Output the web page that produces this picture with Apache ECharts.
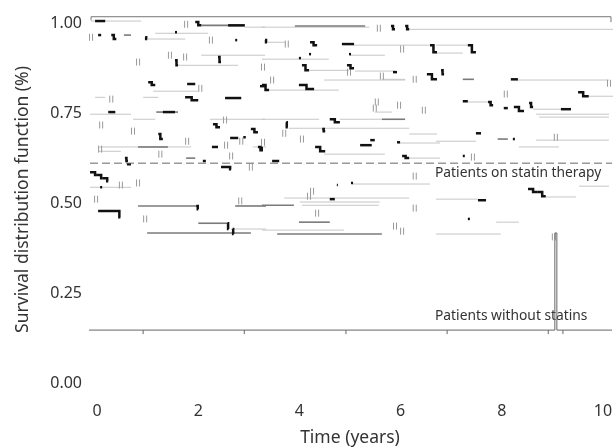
<!DOCTYPE html>
<html>
<head>
<meta charset="utf-8">
<script src="https://cdn.jsdelivr.net/npm/echarts@6/dist/echarts.min.js"></script>
<style>
  html, body { margin: 0; padding: 0; background: #fff; }
  #chart { width: 614px; height: 447px; }
</style>
</head>
<body>
<div id="chart"></div>
<script>
// tick labels
const xLabels = [0, 2, 4, 6, 8, 10]
const yLabels = [0, 0.25, 0.5, 0.75, 1]
const xTickMarks = [0.91, 2.91, 4.92, 6.92, 8.92, 9.21]

// patients without statins: stays flat, jumps near year 9
const noStatinX = [-0.16, 9.05, 9.05, 9.09, 9.09, 10.18]
const noStatinY = [0.147, 0.147, 0.417, 0.417, 0.147, 0.147]

// patients on statin therapy: dashed reference level
const statinX = [-0.14, 10.18]
const statinY = [0.611, 0.611]

// frame at the top of the curves
const frameX = [-0.12, -0.12, 10.16, 10.16]
const frameY = [1.008, 1.018, 1.018, 1.003]

// faint curve fragments: [start, end, survival]
const lightSegments = [
  [-0.12, 0.87, 1.006], [2.92, 3.32, 0.989], [3.26, 5.38, 0.989], [6.17, 10.2, 0.983],
  [1.15, 2.19, 0.972], [0.99, 1.74, 0.956], [3.36, 3.72, 0.947], [5.08, 6.56, 0.939],
  [6.70, 7.33, 0.939], [6.70, 7.23, 0.917], [2.06, 3.32, 0.911], [5.00, 5.69, 0.911],
  [3.26, 4.58, 0.900], [1.56, 2.79, 0.883], [4.19, 4.98, 0.869], [5.10, 5.89, 0.867],
  [5.63, 6.09, 0.844], [4.49, 6.09, 0.842], [8.32, 10.12, 0.842], [3.40, 4.78, 0.814],
  [1.11, 2.00, 0.811], [9.72, 10.2, 0.797], [-0.04, 0.16, 0.794], [0.91, 1.21, 0.794],
  [7.33, 7.75, 0.781], [8.62, 9.21, 0.761], [5.49, 5.83, 0.753], [-0.14, 0.67, 0.747],
  [8.68, 10.12, 0.747], [8.74, 10.12, 0.739], [0.71, 1.15, 0.733], [2.23, 3.32, 0.733],
  [3.26, 4.39, 0.733], [4.80, 5.63, 0.733], [3.79, 6.17, 0.708], [6.17, 6.72, 0.692],
  [6.70, 7.49, 0.672], [8.68, 10.12, 0.675], [5.99, 6.78, 0.667], [0.02, 1.86, 0.656],
  [3.08, 3.34, 0.656], [8.34, 9.13, 0.656], [0.02, 0.47, 0.644], [4.49, 5.69, 0.636],
  [6.17, 6.78, 0.625], [5.04, 6.58, 0.553], [9.53, 10.12, 0.547], [-0.14, 0.67, 0.544],
  [8.87, 9.47, 0.517], [3.70, 6.17, 0.514], [6.70, 7.53, 0.511], [4.05, 5.57, 0.494],
  [7.89, 8.34, 0.447], [2.65, 3.34, 0.428], [3.26, 4.88, 0.425], [6.70, 7.98, 0.414],
  [4.01, 5.59, 0.503]
]

// grey curve fragments: [start, end, survival]
const greySegments = [
  [2.06, 2.92, 0.994], [3.91, 5.30, 0.992], [0.53, 0.67, 0.967], [1.17, 1.60, 0.753],
  [0.81, 1.40, 0.656], [1.76, 1.94, 0.625], [0.81, 2.00, 0.492], [2.73, 3.34, 0.492],
  [3.26, 3.89, 0.494], [3.99, 4.60, 0.447], [2.00, 2.59, 0.444], [0.99, 3.04, 0.417],
  [3.56, 5.63, 0.414], [5.63, 6.09, 0.733], [7.23, 7.45, 0.844], [7.92, 8.12, 0.678]
]

// black event steps: [start, step at, end, survival before, survival after]
const eventSteps = [
  [-0.04, 0.06, 0.16, 1.006, 1.006], [1.94, 2.00, 2.06, 1.003, 0.994], [2.59, 2.75, 2.92, 0.994, 0.994],
  [0.02, 0.05, 0.08, 0.967, 0.967], [0.28, 0.33, 0.38, 0.967, 0.956], [0.95, 0.97, 0.99, 0.961, 0.956],
  [5.81, 5.85, 5.89, 0.992, 0.983], [6.09, 6.13, 6.17, 0.992, 0.983], [3.32, 3.34, 3.36, 0.953, 0.947],
  [4.21, 4.28, 4.35, 0.947, 0.939], [4.84, 4.96, 5.08, 0.942, 0.942], [6.58, 6.65, 6.72, 0.939, 0.919],
  [7.33, 7.41, 7.49, 0.939, 0.919], [1.54, 1.57, 1.60, 0.897, 0.883], [2.39, 2.42, 2.45, 0.906, 0.892],
  [4.05, 4.12, 4.19, 0.883, 0.869], [4.94, 5.01, 5.08, 0.883, 0.875], [5.85, 5.89, 5.93, 0.864, 0.864],
  [6.52, 6.62, 6.72, 0.858, 0.844], [6.80, 6.83, 6.86, 0.869, 0.858], [8.18, 8.25, 8.32, 0.844, 0.844],
  [1.01, 1.08, 1.15, 0.836, 0.828], [1.78, 1.86, 1.94, 0.831, 0.831], [3.22, 3.28, 3.34, 0.825, 0.825],
  [3.26, 3.33, 3.40, 0.828, 0.814], [3.99, 4.14, 4.29, 0.828, 0.817], [1.74, 1.87, 2.00, 0.794, 0.786],
  [2.53, 2.69, 2.85, 0.792, 0.792], [9.51, 9.61, 9.72, 0.808, 0.797], [7.23, 7.28, 7.33, 0.783, 0.783],
  [7.73, 7.78, 7.83, 0.781, 0.772], [8.04, 8.08, 8.12, 0.764, 0.764], [8.24, 8.34, 8.44, 0.767, 0.756],
  [8.54, 8.58, 8.62, 0.778, 0.767], [9.17, 9.27, 9.37, 0.761, 0.761], [0.22, 0.29, 0.36, 0.753, 0.753],
  [1.30, 1.42, 1.54, 0.753, 0.753], [2.29, 2.36, 2.43, 0.719, 0.711], [3.74, 3.75, 3.77, 0.725, 0.711],
  [4.60, 4.70, 4.80, 0.733, 0.725], [3.04, 3.11, 3.18, 0.706, 0.697], [1.21, 1.25, 1.30, 0.692, 0.678],
  [2.63, 2.71, 2.79, 0.681, 0.681], [2.89, 2.91, 2.94, 0.683, 0.683], [2.27, 2.33, 2.39, 0.656, 0.656],
  [3.18, 3.23, 3.28, 0.656, 0.647], [0.55, 0.58, 0.61, 0.625, 0.617], [0.59, 0.63, 0.67, 0.608, 0.608],
  [2.09, 2.12, 2.15, 0.617, 0.617], [2.45, 2.63, 2.65, 0.600, 0.594], [4.45, 4.48, 4.51, 0.706, 0.700],
  [5.40, 5.45, 5.49, 0.675, 0.675], [5.20, 5.31, 5.43, 0.661, 0.661], [5.93, 5.96, 5.99, 0.669, 0.669],
  [4.31, 4.41, 4.51, 0.656, 0.644], [6.03, 6.10, 6.17, 0.631, 0.625], [7.49, 7.54, 7.59, 0.694, 0.694],
  [8.22, 8.24, 8.26, 0.678, 0.678], [7.23, 7.25, 7.27, 0.631, 0.631], [-0.14, -0.04, -0.02, 0.586, 0.578],
  [-0.02, 0.08, 0.10, 0.578, 0.569], [0.10, 0.20, 0.22, 0.569, 0.561], [0.02, 0.44, 0.46, 0.478, 0.461],
  [4.74, 4.75, 4.76, 0.550, 0.550], [5.02, 5.04, 5.06, 0.556, 0.556], [4.60, 4.65, 4.70, 0.511, 0.511],
  [8.52, 8.62, 8.70, 0.539, 0.531], [8.70, 8.80, 8.87, 0.531, 0.519], [7.53, 7.61, 7.69, 0.508, 0.508],
  [7.33, 7.35, 7.37, 0.456, 0.456], [1.96, 1.99, 2.00, 0.492, 0.483], [2.58, 2.59, 2.60, 0.444, 0.428],
  [2.68, 2.69, 2.70, 0.428, 0.414], [3.46, 3.53, 3.60, 0.617, 0.617], [1.54, 1.56, 1.58, 0.975, 0.975],
  [2.73, 2.75, 2.77, 0.953, 0.953], [3.99, 4.01, 4.03, 0.903, 0.903], [4.19, 4.21, 4.23, 0.914, 0.914],
  [4.98, 5.00, 5.02, 0.914, 0.914], [0.06, 0.08, 0.10, 0.544, 0.544], [3.24, 3.26, 3.28, 0.653, 0.653]
]

// censored observations: [time, survival]
const censorMarks = [
  [1.76, 0.997], [5.57, 0.986], [-0.12, 0.961], [2.25, 0.953], [3.75, 0.942], [6.03, 0.928],
  [0.81, 0.892], [1.74, 0.906], [1.44, 0.911], [3.28, 0.878], [4.98, 0.864], [5.63, 0.853],
  [6.28, 0.844], [3.46, 0.842], [2.04, 0.819], [0.28, 0.789], [8.08, 0.803], [5.53, 0.781],
  [5.49, 0.764], [5.97, 0.772], [6.46, 0.758], [0.08, 0.717], [2.53, 0.731], [0.71, 0.700],
  [3.70, 0.694], [4.05, 0.678], [2.85, 0.672], [1.78, 0.672], [3.28, 0.669], [0.06, 0.650],
  [2.55, 0.661], [1.25, 0.636], [2.65, 0.631], [3.04, 0.600], [0.47, 0.550], [0.81, 0.556],
  [6.28, 0.575], [4.25, 0.533], [4.19, 0.519], [-0.02, 0.511], [2.83, 0.506], [6.28, 0.486],
  [0.95, 0.456], [4.35, 0.472], [5.89, 0.436], [6.03, 0.422], [9.03, 0.406], [9.07, 0.683],
  [10.12, 0.833], [7.43, 0.628]
]

const FONT = '"Noto Sans", "Open Sans", sans-serif'

const chart = echarts.init(document.getElementById('chart'), null, { renderer: 'canvas' })

function segmentItem(color, width) {
  return (params, api) => {
    const a = api.coord([api.value(0), api.value(2)])
    const b = api.coord([api.value(1), api.value(2)])
    return { type: 'line', shape: { x1: a[0], y1: a[1], x2: b[0], y2: b[1] }, style: { stroke: color, lineWidth: width } }
  }
}

const zip = (xs, ys) => xs.map((x, i) => [x, ys[i]])

chart.setOption({
  animation: false,
  backgroundColor: '#ffffff',
  grid: { left: 88, right: 2, top: 16, bottom: 64, outerBoundsMode: 'none', containLabel: false },
  xAxis: {
    type: 'value',
    min: -0.18,
    max: 10.18,
    name: 'Time (years)',
    nameLocation: 'middle',
    nameGap: 46,
    nameTextStyle: { fontFamily: FONT, fontSize: 17.5, color: '#333' },
    axisLine: { show: false },
    axisTick: { show: false },
    splitLine: { show: false },
    axisLabel: { customValues: xLabels, fontFamily: FONT, fontSize: 16, color: '#333', margin: 20 },
  },
  yAxis: {
    type: 'value',
    min: 0,
    max: 1.02,
    name: 'Survival distribution function (%)',
    nameLocation: 'middle',
    nameGap: 56,
    nameTextStyle: { fontFamily: FONT, fontSize: 17.5, color: '#333' },
    axisLine: { show: false },
    axisTick: { show: false },
    splitLine: { show: false },
    axisLabel: { customValues: yLabels, formatter: (v) => v.toFixed(2), fontFamily: FONT, fontSize: 16, color: '#333', margin: 6 },
  },
  graphic: [
    { type: 'text', left: 435, top: 166, style: { text: 'Patients on statin therapy', font: '13.8px ' + FONT, fill: '#333' } },
    { type: 'text', left: 435, top: 309, style: { text: 'Patients without statins', font: '13.8px ' + FONT, fill: '#333' } },
  ],
  series: [
    {
      type: 'custom',
      renderItem: segmentItem('#c6c6c6', 1),
      data: lightSegments,
    },
    {
      type: 'custom',
      renderItem: segmentItem('#7a7a7a', 1.6),
      data: greySegments,
    },
    {
      type: 'line',
      data: zip(frameX, frameY),
      symbol: 'none',
      lineStyle: { color: '#777', width: 1 },
    },
    {
      type: 'line',
      data: zip(statinX, statinY),
      symbol: 'none',
      lineStyle: { color: '#666', width: 1, type: [8, 4] },
    },
    {
      type: 'line',
      data: zip(noStatinX, noStatinY),
      symbol: 'none',
      lineStyle: { color: '#666', width: 1 },
    },
    {
      type: 'custom',
      renderItem: (params, api) => {
        const c = api.coord([api.value(0), 0.147])
        return { type: 'line', shape: { x1: c[0], y1: c[1], x2: c[0], y2: c[1] + 4 }, style: { stroke: '#666', lineWidth: 1 } }
      },
      data: xTickMarks.map((x) => [x]),
    },
    {
      type: 'custom',
      renderItem: (params, api) => {
        const c = api.coord([api.value(0), api.value(1)])
        const mk = (dx) => ({ type: 'line', shape: { x1: c[0] + dx, y1: c[1] - 3.5, x2: c[0] + dx, y2: c[1] + 3.5 }, style: { stroke: '#999', lineWidth: 1 } })
        return { type: 'group', children: [mk(-1.5), mk(1.5)] }
      },
      data: censorMarks,
    },
    {
      type: 'custom',
      renderItem: (params, api) => {
        const pts = [
          api.coord([api.value(0), api.value(3)]),
          api.coord([api.value(1), api.value(3)]),
          api.coord([api.value(1), api.value(4)]),
          api.coord([api.value(2), api.value(4)]),
        ]
        return { type: 'polyline', shape: { points: pts }, style: { stroke: '#111', lineWidth: 2.5, fill: null } }
      },
      data: eventSteps,
    },
  ],
})
</script>
</body>
</html>
